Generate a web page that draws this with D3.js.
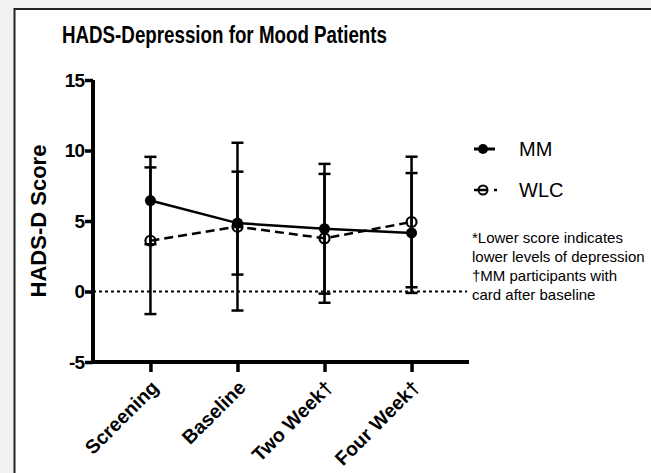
<!DOCTYPE html>
<html>
<head>
<meta charset="utf-8">
<script src="https://cdn.jsdelivr.net/npm/d3@7"></script>
<style>
  body { margin: 0; background: #f1f1f1; }
  svg { display: block; font-family: "Liberation Sans", Arial, sans-serif; }
</style>
</head>
<body>
<script>
// timepoints and group means / SDs
var categories = ["Screening", "Baseline", "Two Week\u2020", "Four Week\u2020"];
var mmMean = [6.45, 4.85, 4.45, 4.15];
var mmSD   = [3.1, 3.65, 4.6, 4.25];
var wlcMean = [3.6, 4.6, 3.77, 4.93];
var wlcSD   = [5.2, 5.95, 4.57, 4.63];
var yTicks = [-5, 0, 5, 10, 15];
var notes = ["*Lower score indicates", "lower levels of depression", "\u2020MM participants with", "card after baseline"];

var W = 651, H = 473;
var margin = {top: 80, left: 93, right: 182, bottom: 111};

var svg = d3.select("body").append("svg")
    .attr("width", W)
    .attr("height", H);

// white panel with dark frame
svg.append("rect")
    .attr("x", 14.5).attr("y", 9)
    .attr("width", W).attr("height", H)
    .attr("fill", "#fff")
    .attr("stroke", "#222")
    .attr("stroke-width", 2);

var x = d3.scalePoint()
    .domain(categories)
    .range([margin.left, W - margin.right])
    .padding(0.66);

var y = d3.scaleLinear()
    .domain([-5, 15])
    .range([H - margin.bottom, margin.top]);

svg.append("text")
    .attr("x", 62).attr("y", 43)
    .attr("font-size", 23)
    .attr("font-weight", "bold")
    .attr("textLength", 325)
    .attr("lengthAdjust", "spacingAndGlyphs")
    .text("HADS-Depression for Mood Patients");

// zero reference line
svg.append("line")
    .attr("x1", margin.left).attr("x2", W - margin.right - 2)
    .attr("y1", y(0)).attr("y2", y(0))
    .attr("stroke", "#000")
    .attr("stroke-width", 2)
    .attr("stroke-dasharray", "3,3");

// axes
var yAxis = svg.append("g")
    .attr("transform", "translate(" + margin.left + ",0)")
    .call(d3.axisLeft(y).tickValues(yTicks).tickSize(8).tickPadding(1)
      .tickFormat(function(d) { return String(d); }));
var xAxis = svg.append("g")
    .attr("transform", "translate(0," + (H - margin.bottom) + ")")
    .call(d3.axisBottom(x).tickSize(10).tickPadding(4));

[yAxis, xAxis].forEach(function(a) {
  a.attr("font-size", null).attr("font-family", null);
  a.select(".domain").attr("stroke-width", 4);
  a.selectAll(".tick line").attr("stroke-width", 3.5);
  a.selectAll("text")
    .attr("font-weight", "bold")
    .attr("fill", "#000");
});
yAxis.selectAll("text").attr("font-size", 19).attr("letter-spacing", -1);
xAxis.selectAll("text").attr("font-size", 19.5);
yAxis.select(".domain").attr("d", "M0," + y(-5) + "V" + y(15));
xAxis.select(".domain").attr("d", "M" + margin.left + ",0H" + (W - margin.right));

xAxis.selectAll(".tick text")
    .attr("text-anchor", "end")
    .attr("x", 0).attr("y", 0)
    .attr("dy", "0.35em")
    .attr("transform", "translate(4,22) rotate(-45)");

svg.append("text")
    .attr("transform", "translate(46," + ((y(-5) + y(15)) / 2) + ") rotate(-90)")
    .attr("text-anchor", "middle")
    .attr("font-weight", "bold")
    .attr("font-size", 22)
    .text("HADS-D Score");

// error bars
function errorBars(mean, sd) {
  var g = svg.append("g").attr("stroke", "#000").attr("stroke-width", 2.5);
  mean.forEach(function(m, i) {
    var cx = x(categories[i]);
    g.append("line").attr("x1", cx).attr("x2", cx)
      .attr("y1", y(m - sd[i])).attr("y2", y(m + sd[i]));
    [m - sd[i], m + sd[i]].forEach(function(v) {
      g.append("line").attr("x1", cx - 6).attr("x2", cx + 6)
        .attr("y1", y(v)).attr("y2", y(v));
    });
  });
}
errorBars(mmMean, mmSD);
errorBars(wlcMean, wlcSD);

var line = d3.line()
    .x(function(d, i) { return x(categories[i]); })
    .y(function(d) { return y(d); });

svg.append("path")
    .datum(mmMean)
    .attr("d", line)
    .attr("fill", "none")
    .attr("stroke", "#000")
    .attr("stroke-width", 2.5);

svg.append("path")
    .datum(wlcMean)
    .attr("d", line)
    .attr("fill", "none")
    .attr("stroke", "#000")
    .attr("stroke-width", 2.5)
    .attr("stroke-dasharray", "9,5");

svg.selectAll(".mm").data(mmMean).enter().append("circle")
    .attr("cx", function(d, i) { return x(categories[i]); })
    .attr("cy", function(d) { return y(d); })
    .attr("r", 5.5)
    .attr("fill", "#000");

svg.selectAll(".wlc").data(wlcMean).enter().append("circle")
    .attr("cx", function(d, i) { return x(categories[i]); })
    .attr("cy", function(d) { return y(d); })
    .attr("r", 5)
    .attr("fill", "none")
    .attr("stroke", "#000")
    .attr("stroke-width", 2.2);

// legend
var leg = svg.append("g");
leg.append("line").attr("x1", 474).attr("x2", 495).attr("y1", 149).attr("y2", 149)
    .attr("stroke", "#000").attr("stroke-width", 3);
leg.append("circle").attr("cx", 483).attr("cy", 149).attr("r", 5).attr("fill", "#000");
leg.append("text").attr("x", 519).attr("y", 156).attr("font-size", 20).text("MM");

leg.append("line").attr("x1", 474).attr("x2", 498).attr("y1", 190).attr("y2", 190)
    .attr("stroke", "#000").attr("stroke-width", 2.5).attr("stroke-dasharray", "14,6,3");
leg.append("circle").attr("cx", 483).attr("cy", 190).attr("r", 4.5)
    .attr("fill", "none").attr("stroke", "#000").attr("stroke-width", 2);
leg.append("text").attr("x", 519).attr("y", 197).attr("font-size", 20).text("WLC");

svg.append("g").selectAll("text").data(notes).enter().append("text")
    .attr("x", 472)
    .attr("y", function(d, i) { return 243 + i * 19; })
    .attr("font-size", 15)
    .text(function(d) { return d; });
</script>
</body>
</html>
